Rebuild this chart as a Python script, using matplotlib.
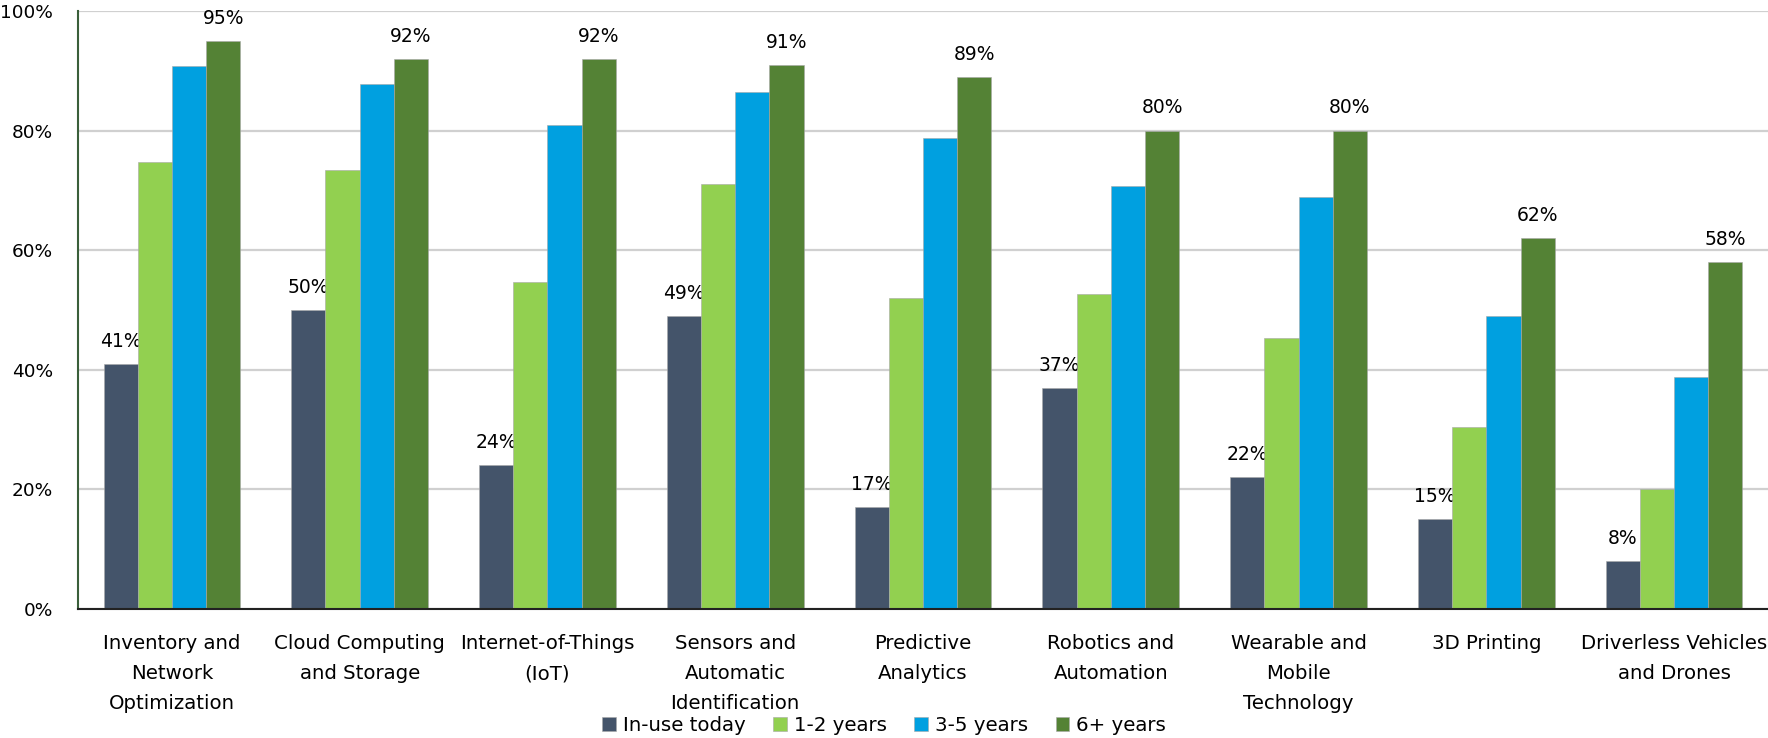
import numpy as np
import matplotlib.pyplot as plt
from matplotlib.ticker import FuncFormatter

plt.rcParams['font.family'] = ['DejaVu Sans']

categories = ["Inventory and\nNetwork\nOptimization", "Cloud Computing\nand Storage",
              "Internet-of-Things\n(IoT)", "Sensors and\nAutomatic\nIdentification",
              "Predictive\nAnalytics", "Robotics and\nAutomation",
              "Wearable and\nMobile\nTechnology", "3D Printing",
              "Driverless Vehicles\nand Drones"]
series_names = ["In-use today", "1-2 years", "3-5 years", "6+ years"]
in_use = [0.41, 0.50, 0.24, 0.49, 0.17, 0.37, 0.22, 0.15, 0.08]
yr_1_2 = [0.748, 0.734, 0.546, 0.710, 0.520, 0.527, 0.454, 0.305, 0.200]
yr_3_5 = [0.908, 0.878, 0.810, 0.864, 0.787, 0.708, 0.689, 0.490, 0.388]
yr_6p = [0.95, 0.92, 0.92, 0.91, 0.89, 0.80, 0.80, 0.62, 0.58]
colors = ["#44546A", "#92D050", "#00A0E0", "#548235"]
labelled = [True, False, False, True]

fig = plt.figure(figsize=(17.68, 7.38), dpi=100)
ax = fig.add_axes((78/1768, 1-609/738, 1-78/1768, (609-11)/738))

x = np.arange(len(categories))
w = 0.182
all_series = [in_use, yr_1_2, yr_3_5, yr_6p]
for j, vals in enumerate(all_series):
    bars = ax.bar(x + (j-1.5)*w, vals, w, color=colors[j], label=series_names[j],
                  edgecolor='#A8A8A8', linewidth=0.4, zorder=3)
    if labelled[j]:
        for b, v in zip(bars, vals):
            ax.annotate(f"{v:.0%}", (b.get_x()+b.get_width()/2, v), xytext=(0, 9.5),
                        textcoords='offset points', ha='center', va='bottom', fontsize=13.5)

ax.set_xlim(-0.5, len(categories)-0.5)
ax.set_ylim(0, 1)
ax.set_yticks(np.arange(0, 1.01, 0.2))
ax.yaxis.set_major_formatter(FuncFormatter(lambda v, p: f"{v:.0%}"))
ax.set_xticks(x)
ax.set_xticklabels(categories, linespacing=1.74)
ax.tick_params(axis='y', length=0, pad=18, labelsize=13.3)
ax.tick_params(axis='x', length=0, pad=18, labelsize=14.2)
ax.grid(axis='y', color='#D0D0D0', lw=1.6, zorder=0)
for s in ['top', 'right']:
    ax.spines[s].set_visible(False)
ax.spines['left'].set_color('#3A5F3A')
ax.spines['left'].set_linewidth(1.5)
ax.spines['bottom'].set_color('#222222')
ax.spines['bottom'].set_linewidth(1.5)
ax.spines['left'].set_zorder(4)
ax.spines['bottom'].set_zorder(4)

fig.legend(loc='center', bbox_to_anchor=(0.5, 0.017), ncol=4, frameon=False,
           fontsize=14.2, handlelength=0.7, handleheight=0.7, handletextpad=0.35,
           columnspacing=1.4, borderpad=0)

fig.savefig("out.png", dpi=100)
